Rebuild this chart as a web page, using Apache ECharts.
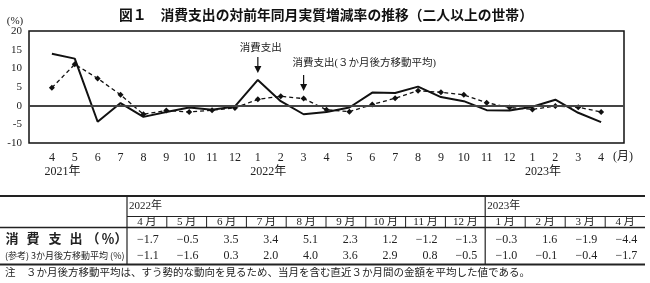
<!DOCTYPE html>
<html>
<head>
<meta charset="utf-8">
<script src="https://cdn.jsdelivr.net/npm/echarts@6/dist/echarts.min.js"></script>
<style>
  html, body { margin: 0; padding: 0; background: #fff; }
  #chart { width: 650px; height: 283px; }
</style>
</head>
<body>
<div id="chart"></div>
<script>
// month labels along the x axis (2021-04 .. 2023-04)
const monthLabels = ['4','5','6','7','8','9','10','11','12','1','2','3','4','5','6','7','8','9','10','11','12','1','2','3','4'];
const yearLabels = [{ idx: 0, text: '2021年' }, { idx: 9, text: '2022年' }, { idx: 21, text: '2023年' }];

// 消費支出 (real, y/y %)
const spending = [13.9, 12.6, -4.3, 0.7, -3.0, -1.7, -0.5, -1.1, -0.2, 6.9, 1.2, -2.3,
  -1.7, -0.5, 3.5, 3.4, 5.1, 2.3, 1.2, -1.2, -1.3, -0.3, 1.6, -1.9, -4.4];
// 3か月後方移動平均
const movingAvg = [4.8, 11.1, 7.3, 2.9, -2.3, -1.3, -1.7, -1.2, -0.6, 1.7, 2.5, 1.9,
  -1.1, -1.6, 0.3, 2.0, 4.0, 3.6, 2.9, 0.8, -0.5, -1.0, -0.1, -0.4, -1.7];

// table below the chart
const tableStart = 12;
const tableMonths = ['4 月','5 月','6 月','7 月','8 月','9 月','10 月','11 月','12 月','1 月','2 月','3 月','4 月'];
const tableYears = [{ text: '2022年', col: 0 }, { text: '2023年', col: 9 }];

const SERIF = "'Liberation Serif','DejaVu Serif','Noto Sans CJK JP',serif";
const INK = '#111';

const chart = echarts.init(document.getElementById('chart'));

chart.setOption({
  animation: false,
  grid: { left: 29, right: 26, top: 31, bottom: 140, show: true, borderColor: INK, borderWidth: 1.5 },
  xAxis: {
    type: 'value', min: -1, max: 25, interval: 1,
    axisLine: { show: false }, axisTick: { show: false }, splitLine: { show: false },
    axisLabel: {
      margin: 9, fontFamily: SERIF, fontSize: 12, color: '#222',
      formatter: v => monthLabels[v] ?? ''
    }
  },
  yAxis: {
    type: 'value', min: -10, max: 20, interval: 5,
    axisLine: { show: false }, axisTick: { show: false }, splitLine: { show: false },
    axisLabel: { margin: 7, fontFamily: SERIF, fontSize: 11, color: '#222' }
  },
  series: [
    {
      name: '消費支出', type: 'line',
      data: spending.map((v, i) => [i, v]),
      symbol: 'none',
      lineStyle: { color: INK, width: 2 },
      z: 3,
      markLine: {
        silent: true, symbol: 'none', label: { show: false },
        lineStyle: { color: '#444', width: 2, type: 'solid' },
        data: [{ yAxis: 0 }]
      }
    },
    {
      name: '消費支出（３か月後方移動平均）', type: 'line',
      data: movingAvg.map((v, i) => [i, v]),
      symbol: 'diamond', symbolSize: 6,
      itemStyle: { color: INK },
      lineStyle: { color: INK, width: 1.3, type: [4, 3] },
      z: 4
    }
  ]
});

const fmt = v => v.toFixed(1).replace('-', '−');
const g = [];
const txt = (text, x, y, o = {}) => g.push({
  type: 'text', silent: true,
  style: Object.assign({ text, x, y, fontFamily: SERIF, fontSize: 12, fill: '#222', align: 'center', verticalAlign: 'middle' }, o)
});
const ln = (x1, y1, x2, y2, w = 1, c = '#222') => g.push({
  type: 'line', silent: true, shape: { x1, y1, x2, y2 }, style: { stroke: c, lineWidth: w }
});
const arrow = (x, y1, y2) => {
  ln(x, y1, x, y2 - 5, 1.2, INK);
  g.push({ type: 'polygon', silent: true, shape: { points: [[x - 3.5, y2 - 7], [x + 3.5, y2 - 7], [x, y2]] }, style: { fill: INK } });
};
const px = (i, v) => chart.convertToPixel({ gridIndex: 0 }, [i, v]);

// titles
txt('図１　消費支出の対前年同月実質増減率の推移（二人以上の世帯）', 326, 16, { fontSize: 13.8, fontWeight: 'bold', fill: '#111' });
txt('(%)', 15, 21, { fontSize: 11 });
txt('(月)', 623, 157, { fontSize: 12 });

// year labels under months
yearLabels.forEach(y => {
  const p = px(y.idx, -10);
  txt(y.text, p[0] + 10.5, 172, { fontSize: 12 });
});

// annotations
const pJan = px(9, spending[9]);
txt('消費支出', pJan[0] + 3, 48, { fontSize: 10.5 });
arrow(pJan[0], 57, 73);
const pMar = px(11, movingAvg[11]);
txt('消費支出(３か月後方移動平均)', pMar[0] - 11, 63, { fontSize: 10.5, align: 'left' });
arrow(pMar[0], 75, 91);

// table
const colX = [];
for (let i = 0; i < 9; i++) colX.push(127 + i * 39.8);
for (let i = 0; i < 4; i++) colX.push(485.2 + i * 40);
colX.push(645.2);
const T = 196, Y1 = 216.5, Y2 = 227.5, B = 264.5, R = 645;

ln(0, T, R, T, 2);
ln(127, Y1, R, Y1, 1);
ln(0, Y2, R, Y2, 1.5);
ln(0, B, R, B, 2);
ln(127, T, 127, B, 1.2);
ln(colX[9], T, colX[9], B, 1.2);
for (let c = 1; c < 13; c++) if (c !== 9) ln(colX[c], Y1, colX[c], Y2, 1);

tableYears.forEach(y => txt(y.text, colX[y.col] + 2, 206, { align: 'left', fontSize: 11 }));
tableMonths.forEach((m, c) => txt(m, (colX[c] + colX[c + 1]) / 2, 222, { fontSize: 11 }));
spending.slice(tableStart).forEach((v, c) => txt(fmt(v), colX[c + 1] - 8, 240, { align: 'right', fontSize: 12 }));
movingAvg.slice(tableStart).forEach((v, c) => txt(fmt(v), colX[c + 1] - 8, 256, { align: 'right', fontSize: 12 }));

['消', '費', '支', '出', '（', '％', '）'].forEach((ch, i) => {
  txt(ch, [12, 33, 55, 76, 93, 108, 121][i], 240, { fontSize: 13, fontWeight: 'bold' });
});
txt('(参考) 3か月後方移動平均 (%)', 5, 256, { align: 'left', fontSize: 9, fontFamily: "'Noto Sans CJK JP',sans-serif" });
txt('注　３か月後方移動平均は、すう勢的な動向を見るため、当月を含む直近３か月間の金額を平均した値である。', 5, 273, { align: 'left', fontSize: 10.5 });

chart.setOption({ graphic: { elements: g } });
</script>
</body>
</html>
